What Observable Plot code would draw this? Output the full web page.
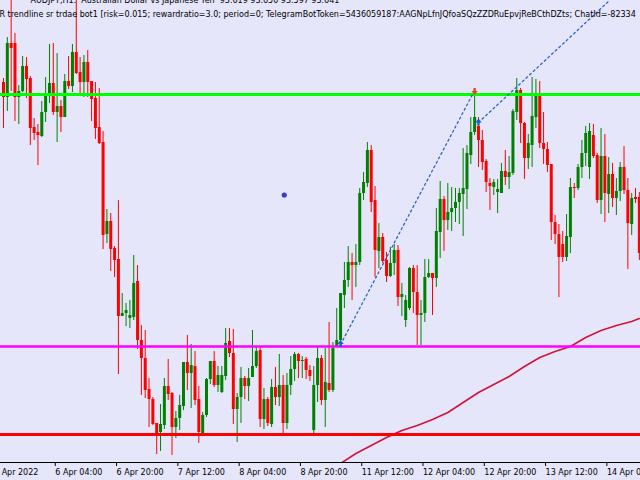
<!DOCTYPE html>
<html><head><meta charset="utf-8">
<script src="https://cdn.jsdelivr.net/npm/d3@7"></script>
<script src="https://cdn.jsdelivr.net/npm/@observablehq/plot@0.6"></script>
<style>
html,body{margin:0;padding:0;background:#e6e6fa;overflow:hidden}
#chart{width:640px;height:480px}
</style></head><body><div id="chart"></div>
<script>
// AUDJPY H1 candles, bar index 0..166 (left to right)
const opens = [93.936,93.906,94.014,94.014,93.906,93.918,93.968,93.944,93.846,93.836,93.828,93.876,93.908,93.934,93.876,93.888,93.866,93.938,93.928,93.996,93.956,93.936,93.976,93.938,93.904,93.846,93.816,93.632,93.658,93.604,93.582,93.468,93.474,93.464,93.466,93.538,93.420,93.384,93.322,93.302,93.254,93.236,93.250,93.328,93.314,93.246,93.264,93.288,93.376,93.354,93.368,93.302,93.234,93.270,93.342,93.378,93.330,93.316,93.348,93.418,93.394,93.282,93.306,93.344,93.328,93.346,93.368,93.400,93.262,93.302,93.252,93.326,93.306,93.330,93.254,93.330,93.362,93.392,93.378,93.382,93.360,93.240,93.330,93.384,93.300,93.334,93.320,93.408,93.420,93.510,93.540,93.576,93.570,93.576,93.714,93.734,93.800,93.700,93.598,93.626,93.580,93.548,93.574,93.600,93.506,93.460,93.484,93.564,93.516,93.470,93.474,93.546,93.554,93.544,93.636,93.702,93.660,93.676,93.684,93.696,93.712,93.722,93.790,93.836,93.848,93.820,93.778,93.734,93.726,93.716,93.714,93.758,93.746,93.754,93.876,93.920,93.854,93.784,93.810,93.866,93.912,93.814,93.802,93.772,93.656,93.632,93.612,93.586,93.626,93.726,93.724,93.766,93.794,93.766,93.830,93.790,93.700,93.788,93.712,93.752,93.704,93.718,93.766,93.720,93.652,93.706,93.706];
const highs = [93.944,94.026,94.110,94.034,93.930,93.988,93.986,93.948,93.864,93.852,93.898,93.946,94.012,94.014,93.994,93.900,93.952,93.988,94.012,94.110,93.986,93.990,94.000,93.938,93.936,93.924,93.838,93.682,93.674,93.608,93.700,93.514,93.494,93.500,93.590,93.570,93.450,93.440,93.344,93.306,93.254,93.292,93.344,93.382,93.316,93.278,93.310,93.376,93.430,93.412,93.398,93.328,93.276,93.344,93.378,93.398,93.368,93.368,93.444,93.444,93.442,93.314,93.366,93.348,93.364,93.440,93.406,93.406,93.324,93.306,93.342,93.366,93.392,93.350,93.354,93.388,93.396,93.394,93.388,93.386,93.370,93.368,93.406,93.390,93.404,93.456,93.416,93.484,93.514,93.576,93.608,93.594,93.612,93.724,93.756,93.816,93.810,93.728,93.654,93.634,93.596,93.606,93.612,93.610,93.534,93.510,93.566,93.570,93.570,93.500,93.582,93.582,93.554,93.684,93.738,93.708,93.734,93.726,93.724,93.724,93.804,93.810,93.866,93.920,93.866,93.840,93.782,93.744,93.742,93.742,93.774,93.800,93.788,93.882,93.944,93.924,93.856,93.832,93.946,93.942,93.938,93.876,93.816,93.772,93.670,93.652,93.638,93.672,93.744,93.734,93.772,93.820,93.848,93.854,93.852,93.794,93.844,93.832,93.786,93.774,93.744,93.776,93.808,93.744,93.714,93.724,93.716];
const lows = [93.844,93.878,93.918,93.858,93.852,93.916,93.904,93.810,93.820,93.770,93.826,93.856,93.894,93.870,93.816,93.836,93.866,93.922,93.916,93.952,93.914,93.906,93.906,93.858,93.822,93.812,93.602,93.614,93.558,93.546,93.352,93.468,93.448,93.444,93.460,93.402,93.310,93.304,93.246,93.250,93.192,93.198,93.242,93.300,93.190,93.224,93.240,93.280,93.320,93.284,93.290,93.214,93.232,93.266,93.332,93.326,93.316,93.314,93.340,93.386,93.252,93.216,93.254,93.302,93.298,93.346,93.364,93.246,93.242,93.248,93.246,93.290,93.288,93.228,93.242,93.310,93.338,93.344,93.344,93.342,93.338,93.228,93.296,93.290,93.246,93.316,93.316,93.406,93.410,93.484,93.526,93.500,93.526,93.570,93.700,93.726,93.676,93.546,93.564,93.574,93.536,93.546,93.550,93.488,93.468,93.446,93.480,93.474,93.410,93.410,93.456,93.544,93.470,93.526,93.584,93.598,93.640,93.638,93.656,93.652,93.628,93.682,93.772,93.830,93.766,93.760,93.716,93.680,93.710,93.674,93.714,93.730,93.722,93.750,93.860,93.814,93.742,93.762,93.766,93.844,93.804,93.772,93.756,93.620,93.612,93.506,93.576,93.578,93.594,93.704,93.720,93.744,93.768,93.742,93.784,93.694,93.672,93.656,93.674,93.686,93.670,93.698,93.712,93.562,93.630,93.694,93.580];
const closes = [93.906,94.014,94.004,93.906,93.918,93.968,93.942,93.844,93.834,93.830,93.876,93.908,93.934,93.876,93.888,93.866,93.938,93.928,93.996,93.954,93.936,93.976,93.936,93.902,93.844,93.814,93.630,93.658,93.602,93.580,93.468,93.474,93.480,93.470,93.534,93.420,93.384,93.320,93.302,93.252,93.232,93.252,93.328,93.312,93.246,93.264,93.290,93.376,93.354,93.370,93.300,93.236,93.270,93.342,93.378,93.330,93.350,93.350,93.414,93.394,93.282,93.306,93.344,93.328,93.344,93.368,93.398,93.262,93.302,93.254,93.326,93.306,93.330,93.254,93.330,93.362,93.392,93.378,93.380,93.360,93.348,93.330,93.384,93.300,93.336,93.320,93.404,93.420,93.514,93.540,93.576,93.570,93.576,93.714,93.736,93.800,93.696,93.600,93.626,93.578,93.548,93.574,93.600,93.506,93.512,93.500,93.564,93.516,93.470,93.474,93.546,93.554,93.544,93.638,93.702,93.660,93.676,93.684,93.696,93.714,93.724,93.794,93.836,93.866,93.820,93.776,93.736,93.728,93.736,93.722,93.758,93.746,93.756,93.878,93.920,93.854,93.784,93.814,93.868,93.912,93.814,93.802,93.770,93.656,93.632,93.586,93.586,93.628,93.726,93.724,93.766,93.794,93.834,93.838,93.788,93.700,93.788,93.714,93.752,93.704,93.718,93.766,93.720,93.654,93.704,93.702,93.594];

// moving average (bar index, value)
const maIdx = [84,88,92,96,100,104,108,112,116,120,124,128,132,136,140,144,148,152,156,160,164,166];
const maVal = [93.158,93.174,93.194,93.210,93.226,93.240,93.250,93.262,93.276,93.296,93.316,93.332,93.348,93.368,93.386,93.398,93.408,93.426,93.440,93.450,93.458,93.464];

// horizontal levels
const resistance = 93.912;
const support = 93.408;
const lowLevel = 93.232;

// trend lines [bar index, price]
const trend1 = [[88, 93.412], [123, 93.920]];
const trend2 = [[124, 93.856], [158.2, 94.100]];

// signal arrows and marker dot
const sellArrow = [[123, 93.919]];
const buyArrows = [[124, 93.856], [88, 93.413]];
const markerDot = [[73.3, 93.711]];

// time axis
const tickIdx = [-3, 13, 29, 45, 61, 77, 93, 109, 125, 141, 157];
const tickLabels = ["5 Apr 2022","6 Apr 04:00","6 Apr 20:00","7 Apr 12:00","8 Apr 04:00","8 Apr 20:00","11 Apr 12:00","12 Apr 04:00","12 Apr 20:00","13 Apr 12:00","14 Apr 04:00"];

const header1 = "AUDJPY,H1:  Australian Dollar vs Japanese Yen  93.619 93.650 93.597 93.641";
const header2 = "R trendline sr trdae bot1 [risk=0.015; rewardratio=3.0; period=0; TelegramBotToken=5436059187:AAGNpLfnJQfoaSQzZZDRuEpvjReBCthDZts; ChatId=-82334";

const X_DOMAIN = [-0.78, 166.3];
const Y_DOMAIN = [93.176, 94.100];

const bars = opens.map((o, i) => ({i, o, h: highs[i], l: lows[i], c: closes[i]}));
const BULL = "#008000", BEAR = "#ff0000";
const col = d => d.c > d.o ? BULL : BEAR;
const labelOf = new Map(tickIdx.map((t, k) => [t, tickLabels[k]]));
const ma = maIdx.map((x, k) => ({x, y: maVal[k]}));
const trends = [
  ...trend1.map(([x, y]) => ({x, y, id: 1})),
  ...trend2.map(([x, y]) => ({x, y, id: 2}))
];

const arrowUp = {draw(ctx) {
  ctx.moveTo(0, -4); ctx.lineTo(3.2, 0); ctx.lineTo(1.2, 0); ctx.lineTo(1.2, 3);
  ctx.lineTo(-1.2, 3); ctx.lineTo(-1.2, 0); ctx.lineTo(-3.2, 0); ctx.closePath();
}};
const arrowDown = {draw(ctx) {
  ctx.moveTo(0, 4); ctx.lineTo(3.2, 0); ctx.lineTo(1.2, 0); ctx.lineTo(1.2, -3);
  ctx.lineTo(-1.2, -3); ctx.lineTo(-1.2, 0); ctx.lineTo(-3.2, 0); ctx.closePath();
}};

const plot = Plot.plot({
  width: 640, height: 480,
  marginTop: 0, marginRight: 0, marginBottom: 18, marginLeft: 0,
  style: {background: "#e6e6fa", fontFamily: "DejaVu Sans", fontSize: "8px", color: "#000"},
  color: {type: "identity"},
  x: {type: "linear", domain: X_DOMAIN},
  y: {domain: Y_DOMAIN, axis: null},
  marks: [
    Plot.ruleX(bars, {x: "i", y1: "l", y2: "h", stroke: col, strokeWidth: 1, clip: true}),
    Plot.ruleX(bars, {x: "i", y1: "o", y2: "c", stroke: col, strokeWidth: 3, clip: true}),
    Plot.line(ma, {x: "x", y: "y", stroke: "#d2143a", strokeWidth: 1.6, clip: true}),
    Plot.ruleY([resistance], {stroke: "#00ff00", strokeWidth: 3}),
    Plot.ruleY([support], {stroke: "#ff00ff", strokeWidth: 2.5}),
    Plot.ruleY([lowLevel], {stroke: "#ff0000", strokeWidth: 3}),
    Plot.line(trends, {x: "x", y: "y", z: "id", stroke: "#2a66c0", strokeWidth: 1.3, strokeDasharray: "2,3", clip: true}),
    Plot.dot(markerDot, {x: d => d[0], y: d => d[1], r: 2.6, fill: "#3c3cd0", stroke: "none"}),
    Plot.dot(sellArrow, {x: d => d[0], y: d => d[1], symbol: arrowDown, r: 4, fill: "#e8461e", stroke: "none"}),
    Plot.dot(buyArrows, {x: d => d[0], y: d => d[1], symbol: arrowUp, r: 4, fill: "#1a5ed0", stroke: "none"}),
    Plot.ruleY([Y_DOMAIN[0]], {stroke: "#000", strokeWidth: 1}),
    Plot.axisX(tickIdx, {tickFormat: d => labelOf.get(d), tickSize: 4, tickPadding: 3, textAnchor: "start", dx: 2, fontSize: 8, stroke: "#000", fill: "#000"}),
    Plot.text([header1], {frameAnchor: "top-left", text: d => d, textAnchor: "start", lineAnchor: "top", dx: 30, dy: -3.2, fontSize: 8, fill: "#000"}),
    Plot.text([header2], {frameAnchor: "top-left", text: d => d, textAnchor: "start", lineAnchor: "top", dx: -1, dy: 11, fontSize: 8, fill: "#000"})
  ]
});
document.getElementById("chart").appendChild(plot);
</script>
</body></html>
